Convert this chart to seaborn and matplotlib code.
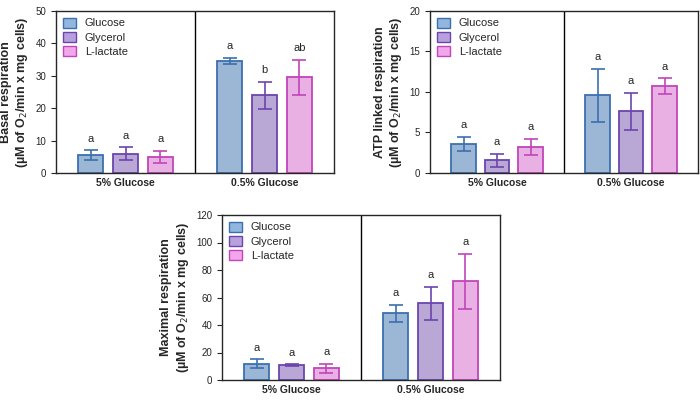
import matplotlib
matplotlib.use("Agg")
import matplotlib.pyplot as plt
import seaborn as sns
import pandas as pd
from matplotlib.patches import Patch

sns.set_style("ticks")
plt.rcParams['font.family'] = ['Liberation Sans', 'DejaVu Sans']

groups = ["5% Glucose", "0.5% Glucose"]
substrates = ["Glucose", "Glycerol", "L-lactate"]
fills = ["#93b6de", "#b7a0dc", "#f2a6ec"]
edges = ["#3b6fb0", "#6b45ad", "#c144b9"]

basal_mean = [[5.5, 6.0, 5.0], [34.5, 24.0, 29.5]]
basal_err = [[1.5, 2.0, 1.8], [1.0, 4.2, 5.5]]
basal_lab = [["a", "a", "a"], ["a", "b", "ab"]]
atp_mean = [[3.6, 1.6, 3.2], [9.6, 7.6, 10.7]]
atp_err = [[0.9, 0.8, 1.0], [3.3, 2.3, 1.0]]
atp_lab = [["a", "a", "a"], ["a", "a", "a"]]
max_mean = [[12.0, 11.0, 8.5], [48.5, 56.0, 72.0]]
max_err = [[3.0, 0.5, 3.5], [6.0, 12.0, 20.0]]
max_lab = [["a", "a", "a"], ["a", "a", "a"]]

fig = plt.figure(figsize=(7, 4.04), dpi=100)
W, H = 700, 404
def add(x0, y0, x1, y1):
    return fig.add_axes([x0 / W, 1 - y1 / H, (x1 - x0) / W, (y1 - y0) / H])

def panel(ax, mean, err, labs, ymax, step, ylabel):
    rows = []
    for gi, g in enumerate(groups):
        for si, s in enumerate(substrates):
            rows.append(dict(group=g, sub=s, val=mean[gi][si]))
    df = pd.DataFrame(rows)
    sns.barplot(data=df, x="group", y="val", hue="sub", order=groups, hue_order=substrates,
                palette=fills, errorbar=None, width=0.75, ax=ax, legend=False, linewidth=1.3)
    bar_conts = list(ax.containers)
    for si, cont in enumerate(bar_conts):
        for gi, bar in enumerate(cont.patches):
            bar.set_edgecolor(edges[si])
            w = bar.get_width()
            bar.set_width(w * 0.72)
            bar.set_x(bar.get_x() + w * 0.14)
            cx = bar.get_x() + bar.get_width() / 2
            m, e = mean[gi][si], err[gi][si]
            ax.errorbar(cx, m, yerr=e, color=edges[si], capsize=5, lw=1.2, capthick=1.2)
            ax.text(cx, m + e + ymax * 0.04, labs[gi][si], ha="center", va="bottom", fontsize=8)
    ax.axvline(0.5, color="black", lw=1)
    ax.set_xlim(-0.5, 1.5)
    ax.set_ylim(0, ymax)
    ax.set_yticks(range(0, ymax + 1, step))
    ax.set_xlabel("")
    ax.set_ylabel(ylabel, fontsize=9, fontweight="bold")
    ax.tick_params(axis="y", labelsize=7)
    ax.tick_params(axis="x", labelsize=7.5, length=0)
    for t in ax.get_xticklabels():
        t.set_fontweight("bold")
    for sp in ax.spines.values():
        sp.set_visible(True)
        sp.set_linewidth(1)
    handles = [Patch(facecolor=fills[i], edgecolor=edges[i], label=substrates[i]) for i in range(3)]
    ax.legend(handles=handles, loc="upper left", frameon=False, fontsize=8,
              handlelength=1.2, handleheight=1.0, borderaxespad=0.2, labelspacing=0.3)

ax1 = add(56, 11, 334, 173)
panel(ax1, basal_mean, basal_err, basal_lab, 50, 10, "Basal respiration\n(µM of O$_2$/min x mg cells)")
ax2 = add(430, 11, 698, 173)
panel(ax2, atp_mean, atp_err, atp_lab, 20, 5, "ATP linked respiration\n(µM of O$_2$/min x mg cells)")
ax3 = add(222, 215, 500, 380)
panel(ax3, max_mean, max_err, max_lab, 120, 20, "Maximal respiration\n(µM of O$_2$/min x mg cells)")

fig.savefig("out.png", dpi=100)
